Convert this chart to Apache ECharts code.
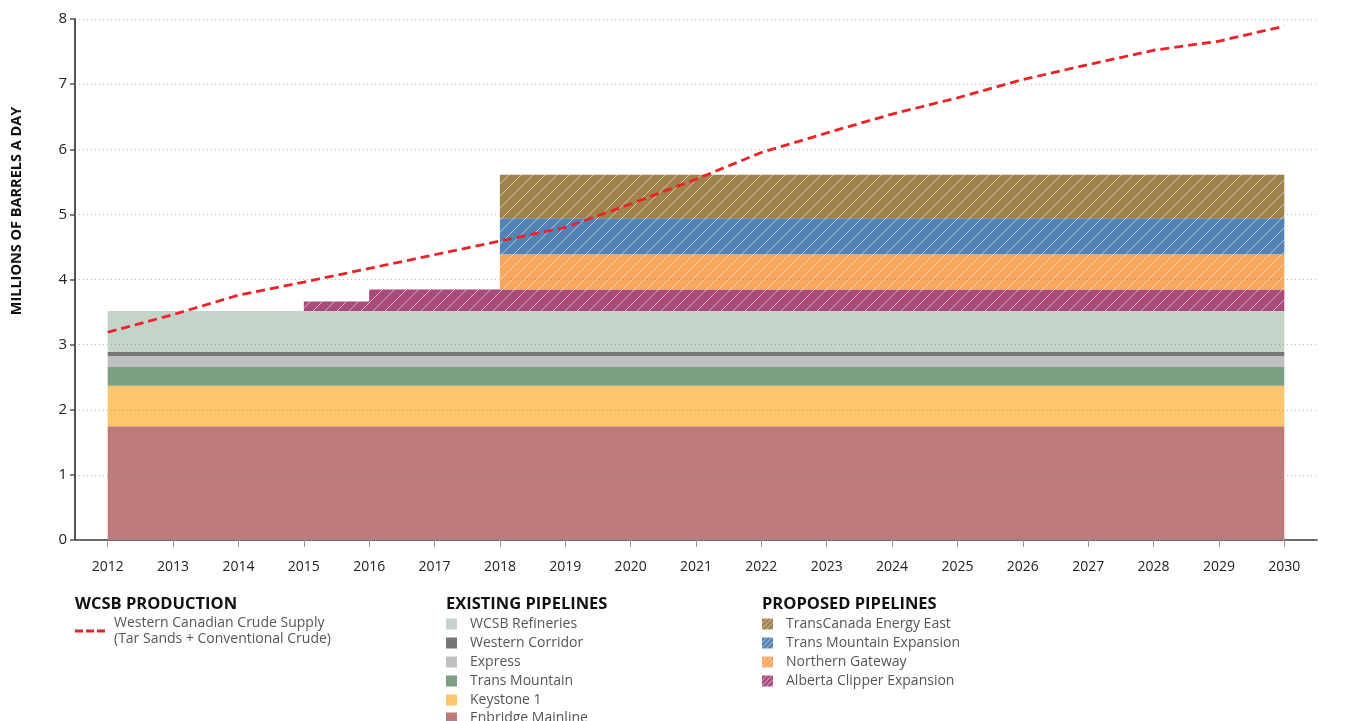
<!DOCTYPE html>
<html>
<head>
<meta charset="utf-8">
<script src="https://cdn.jsdelivr.net/npm/echarts@6/dist/echarts.min.js"></script>
<style>
html,body{margin:0;padding:0;background:#fff;}
#chart{width:1364px;height:721px;}
</style>
</head>
<body>
<div id="chart"></div>
<script>
const years = ['2012','2013','2014','2015','2016','2017','2018','2019','2020','2021','2022','2023','2024','2025','2026','2027','2028','2029','2030'];
const yTicks = [0,1,2,3,4,5,6,7,8];

const enbridgeMainline = [1.745,1.745,1.745,1.745,1.745,1.745,1.745,1.745,1.745,1.745,1.745,1.745,1.745,1.745,1.745,1.745,1.745,1.745,1.745];
const keystone1        = [0.622,0.622,0.622,0.622,0.622,0.622,0.622,0.622,0.622,0.622,0.622,0.622,0.622,0.622,0.622,0.622,0.622,0.622,0.622];
const transMountain    = [0.291,0.291,0.291,0.291,0.291,0.291,0.291,0.291,0.291,0.291,0.291,0.291,0.291,0.291,0.291,0.291,0.291,0.291,0.291];
const express          = [0.168,0.168,0.168,0.168,0.168,0.168,0.168,0.168,0.168,0.168,0.168,0.168,0.168,0.168,0.168,0.168,0.168,0.168,0.168];
const westernCorridor  = [0.061,0.061,0.061,0.061,0.061,0.061,0.061,0.061,0.061,0.061,0.061,0.061,0.061,0.061,0.061,0.061,0.061,0.061,0.061];
const wcsbRefineries   = [0.628,0.628,0.628,0.628,0.628,0.628,0.628,0.628,0.628,0.628,0.628,0.628,0.628,0.628,0.628,0.628,0.628,0.628,0.628];
const albertaClipper   = [0,0,0,0.148,0.332,0.332,0.332,0.332,0.332,0.332,0.332,0.332,0.332,0.332,0.332,0.332,0.332,0.332,0.332];
const northernGateway  = [0,0,0,0,0,0,0.540,0.540,0.540,0.540,0.540,0.540,0.540,0.540,0.540,0.540,0.540,0.540,0.540];
const tmExpansion      = [0,0,0,0,0,0,0.553,0.553,0.553,0.553,0.553,0.553,0.553,0.553,0.553,0.553,0.553,0.553,0.553];
const energyEast       = [0,0,0,0,0,0,0.670,0.670,0.670,0.670,0.670,0.670,0.670,0.670,0.670,0.670,0.670,0.670,0.670];
const crudeSupply      = [3.19,3.46,3.76,3.96,4.17,4.38,4.59,4.80,5.16,5.54,5.95,6.25,6.54,6.79,7.07,7.30,7.52,7.66,7.89];

const FONT = "'Open Sans', sans-serif";
const SUPPLY = 'Western Canadian Crude Supply (Tar Sands + Conventional Crude)';

function hatch(color){
  const s = 12;
  const c = document.createElement('canvas');
  c.width = s; c.height = s;
  const g = c.getContext('2d');
  g.fillStyle = color; g.fillRect(0,0,s,s);
  g.strokeStyle = 'rgba(225,225,225,0.7)';
  g.lineWidth = 1;
  g.beginPath();
  g.moveTo(0,s); g.lineTo(s,0);
  g.moveTo(-1,1); g.lineTo(1,-1);
  g.moveTo(s-1,s+1); g.lineTo(s+1,s-1);
  g.stroke();
  return {image:c, repeat:'repeat'};
}
function hatchSmall(color){
  const s = 5;
  const c = document.createElement('canvas');
  c.width = s; c.height = s;
  const g = c.getContext('2d');
  g.fillStyle = color; g.fillRect(0,0,s,s);
  g.strokeStyle = 'rgba(230,230,230,0.75)';
  g.lineWidth = 1;
  g.beginPath();
  g.moveTo(0,s); g.lineTo(s,0);
  g.moveTo(-1,1); g.lineTo(1,-1);
  g.moveTo(s-1,s+1); g.lineTo(s+1,s-1);
  g.stroke();
  return {image:c, repeat:'repeat'};
}

const layers = [
  {name:'Enbridge Mainline', data:enbridgeMainline, color:'#bc7a7b'},
  {name:'Keystone 1', data:keystone1, color:'#fec66a'},
  {name:'Trans Mountain', data:transMountain, color:'#7c9f84'},
  {name:'Express', data:express, color:'#c0c0c0'},
  {name:'Western Corridor', data:westernCorridor, color:'#767676'},
  {name:'WCSB Refineries', data:wcsbRefineries, color:'#c4d4c8'},
  {name:'Alberta Clipper Expansion', data:albertaClipper, color:'#a94a7a', hatched:true},
  {name:'Northern Gateway', data:northernGateway, color:'#f8a75c', hatched:true},
  {name:'Trans Mountain Expansion', data:tmExpansion, color:'#5183b6', hatched:true},
  {name:'TransCanada Energy East', data:energyEast, color:'#a0834a', hatched:true}
];

const series = layers.map(l => ({
  name: l.name,
  type: 'line',
  stack: 'capacity',
  step: 'end',
  symbol: 'none',
  showSymbol: false,
  data: l.data,
  color: l.color,
  itemStyle: {color: l.color},
  lineStyle: {width: 0},
  areaStyle: {color: l.hatched ? hatch(l.color) : l.color, opacity: 1},
  emphasis: {disabled: true},
  silent: true,
  z: 2
}));
series.push({
  name: SUPPLY,
  type: 'line',
  symbol: 'none',
  showSymbol: false,
  data: crudeSupply,
  color: '#ec2227',
  itemStyle: {color: '#ec2227'},
  lineStyle: {color: '#ec2227', width: 2.8, type: [9,5]},
  emphasis: {disabled: true},
  silent: true,
  z: 6
});

const legendText = {fontFamily: FONT, fontSize: 14, color: '#555', padding: [0,0,0,8]};
const existingNames = ['WCSB Refineries','Western Corridor','Express','Trans Mountain','Keystone 1'];
const existingLast = ['Enbridge Mainline'];
const proposedNames = ['TransCanada Energy East','Trans Mountain Expansion','Northern Gateway','Alberta Clipper Expansion'];
const colorOf = {}; layers.forEach(l => colorOf[l.name] = l);

const option = {
  animation: false,
  backgroundColor: '#fff',
  grid: {left: 75, right: 47, top: 19, bottom: 181, containLabel: false},
  xAxis: {
    type: 'category',
    data: years,
    boundaryGap: true,
    axisLine: {show: true, lineStyle: {color: '#333', width: 1.5}},
    axisTick: {show: true, alignWithLabel: true, length: 7, lineStyle: {color: '#999', width: 1}},
    axisLabel: {margin: 20, fontFamily: FONT, fontSize: 14, color: '#222'},
    splitLine: {show: false}
  },
  yAxis: {
    type: 'value',
    min: yTicks[0],
    max: yTicks[yTicks.length-1],
    interval: 1,
    z: 4,
    axisLine: {show: true, lineStyle: {color: '#555', width: 2}},
    axisTick: {show: true, length: 5, lineStyle: {color: '#555', width: 1.5}},
    axisLabel: {margin: 8, fontFamily: FONT, fontSize: 15, color: '#222'},
    splitLine: {show: true, lineStyle: {color: 'rgba(150,150,150,0.7)', width: 1, type: [1,3]}}
  },
  legend: [
    {
      left: 75, top: 615, orient: 'vertical', padding: 0,
      selectedMode: false,
      itemWidth: 30, itemHeight: 3,
      data: [{name: SUPPLY, icon: 'path://M0,0h8v3h-8z M11,0h8v3h-8z M22,0h8v3h-8z', itemStyle: {color: '#ec2227'}}],
      formatter: () => 'Western Canadian Crude Supply\n(Tar Sands + Conventional Crude)',
      textStyle: {fontFamily: FONT, fontSize: 14, color: '#555', lineHeight: 16, padding: [0,0,0,4]}
    },
    {
      left: 446, top: 617, orient: 'vertical', padding: 0,
      selectedMode: false,
      itemWidth: 11, itemHeight: 11, itemGap: 5,
      data: existingNames.map(n => ({name: n, icon: 'rect', itemStyle: {color: colorOf[n].color}})),
      textStyle: legendText
    },
    {
      left: 446, top: 711, orient: 'vertical', padding: 0,
      selectedMode: false,
      itemWidth: 11, itemHeight: 11, itemGap: 5,
      data: existingLast.map(n => ({name: n, icon: 'rect', itemStyle: {color: colorOf[n].color}})),
      textStyle: legendText
    },
    {
      left: 762, top: 617, orient: 'vertical', padding: 0,
      selectedMode: false,
      itemWidth: 11, itemHeight: 11, itemGap: 5,
      data: proposedNames.map(n => ({name: n, icon: 'rect', itemStyle: {color: hatchSmall(colorOf[n].color)}})),
      textStyle: legendText
    }
  ],
  graphic: [
    {type: 'text', x: 17, y: 211, rotation: Math.PI/2,
     style: {text: 'MILLIONS OF BARRELS A DAY', fontFamily: FONT, fontWeight: 'bold', fontSize: 14.5, fill: '#111', align: 'center', verticalAlign: 'middle'}},
    {type: 'text', left: 75, top: 596, style: {text: 'WCSB PRODUCTION', fontFamily: FONT, fontWeight: 'bold', fontSize: 16.5, fill: '#111'}},
    {type: 'text', left: 446, top: 596, style: {text: 'EXISTING PIPELINES', fontFamily: FONT, fontWeight: 'bold', fontSize: 16.5, fill: '#111'}},
    {type: 'text', left: 762, top: 596, style: {text: 'PROPOSED PIPELINES', fontFamily: FONT, fontWeight: 'bold', fontSize: 16.5, fill: '#111'}}
  ],
  series: series
};

const chart = echarts.init(document.getElementById('chart'), null, {renderer: 'canvas'});
chart.setOption(option);
</script>
</body>
</html>
